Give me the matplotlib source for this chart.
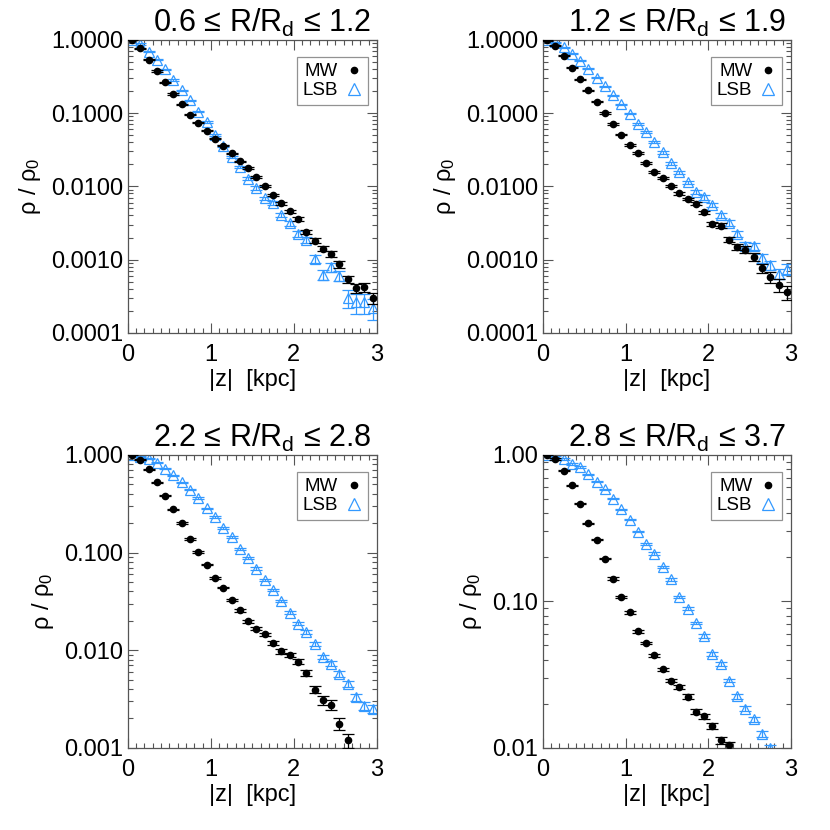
import numpy as np
import matplotlib
matplotlib.use("Agg")
import matplotlib.pyplot as plt
from matplotlib.lines import Line2D
from matplotlib.ticker import MultipleLocator, LogLocator, NullFormatter

plt.rcParams['font.family'] = ['Liberation Sans', 'DejaVu Sans']
plt.rcParams['mathtext.fontset'] = 'custom'
plt.rcParams['mathtext.rm'] = 'Liberation Sans'
plt.rcParams['mathtext.it'] = 'Liberation Sans'

# bin centres in |z| (kpc)
z = np.round(np.arange(0.05, 3.0, 0.1), 2)

titles = ["0.6 \u2264 R/R$_{\\rm d}$ \u2264 1.2",
          "1.2 \u2264 R/R$_{\\rm d}$ \u2264 1.9",
          "2.2 \u2264 R/R$_{\\rm d}$ \u2264 2.8",
          "2.8 \u2264 R/R$_{\\rm d}$ \u2264 3.7"]

# panel 1: 0.6 <= R/Rd <= 1.2
mw1 = [1.0, 0.762, 0.534, 0.374, 0.262, 0.182, 0.131, 0.0949, 0.0738, 0.0574,
       0.0447, 0.0359, 0.0282, 0.0219, 0.0178, 0.01355, 0.0101, 0.00762, 0.00586, 0.00456,
       0.00359, 0.00241, 0.00182, 0.00141, 0.00120, 0.00086, 0.00054, 0.00041, 0.00042, 0.00030]
lsb1 = [1.0, 0.88, 0.686, 0.534, 0.398, 0.282, 0.204, 0.150, 0.105, 0.0754,
        0.0496, 0.0359, 0.0251, 0.0184, 0.0127, 0.0095, 0.00686, 0.00593, 0.00407, 0.00316,
        0.00226, 0.00187, 0.00102, 0.00062, 0.00079, 0.00060, 0.00030, 0.00026, 0.00026, 0.00022]
mw1_err = [0.02, 0.02, 0.02, 0.02, 0.02, 0.02, 0.02, 0.02, 0.02, 0.02,
           0.02, 0.02, 0.02, 0.02, 0.03, 0.03, 0.03, 0.04, 0.04, 0.05,
           0.05, 0.06, 0.07, 0.08, 0.09, 0.10, 0.12, 0.14, 0.15, 0.17]
lsb1_err = [0.02, 0.02, 0.02, 0.02, 0.02, 0.02, 0.02, 0.02, 0.02, 0.02,
            0.03, 0.03, 0.03, 0.04, 0.04, 0.05, 0.05, 0.06, 0.07, 0.08,
            0.09, 0.10, 0.12, 0.15, 0.14, 0.16, 0.28, 0.30, 0.30, 0.33]

# panel 2: 1.2 <= R/Rd <= 1.9
mw2 = [0.98, 0.83, 0.605, 0.415, 0.288, 0.204, 0.143, 0.100, 0.0708, 0.0507,
       0.0366, 0.0285, 0.0208, 0.0155, 0.0131, 0.0102, 0.00803, 0.00672, 0.00580, 0.00442,
       0.0031, 0.00291, 0.00187, 0.00149, 0.00137, 0.00109, 0.00076, 0.00057, 0.00045, 0.00036]
lsb2 = [0.98, 0.92, 0.794, 0.644, 0.517, 0.402, 0.306, 0.231, 0.174, 0.131,
        0.098, 0.0708, 0.0551, 0.0398, 0.0291, 0.0206, 0.0155, 0.0113, 0.00837, 0.00708,
        0.00562, 0.00402, 0.00316, 0.00226, 0.00155, 0.00152, 0.00104, 0.00085, 0.00064, 0.00075]
mw2_err = [0.02, 0.02, 0.02, 0.02, 0.02, 0.02, 0.02, 0.02, 0.02, 0.02,
           0.02, 0.02, 0.02, 0.03, 0.03, 0.03, 0.04, 0.04, 0.05, 0.05,
           0.06, 0.07, 0.08, 0.10, 0.11, 0.13, 0.15, 0.17, 0.19, 0.22]
lsb2_err = [0.02, 0.02, 0.02, 0.02, 0.02, 0.02, 0.02, 0.02, 0.02, 0.02,
            0.02, 0.02, 0.03, 0.03, 0.04, 0.04, 0.05, 0.05, 0.06, 0.07,
            0.07, 0.08, 0.09, 0.10, 0.11, 0.12, 0.13, 0.14, 0.16, 0.17]

# panel 3: 2.2 <= R/Rd <= 2.8
mw3 = [1.0, 0.895, 0.712, 0.524, 0.382, 0.277, 0.199, 0.137, 0.1007, 0.0753,
       0.0545, 0.0437, 0.0329, 0.0256, 0.0197, 0.0166, 0.0145, 0.0119, 0.0097, 0.0090,
       0.0076, 0.00585, 0.00394, 0.00306, 0.00277, 0.00177, 0.00119]
lsb3 = [1.0, 0.953, 0.910, 0.828, 0.724, 0.618, 0.524, 0.440, 0.359, 0.283,
        0.231, 0.179, 0.143, 0.108, 0.0875, 0.0685, 0.0524, 0.0413, 0.0319, 0.0242,
        0.0187, 0.0153, 0.0116, 0.00855, 0.00724, 0.00571, 0.00451, 0.00329, 0.0027, 0.0025]
mw3_err = [0.01, 0.01, 0.01, 0.01, 0.01, 0.01, 0.02, 0.02, 0.02, 0.02,
           0.02, 0.02, 0.02, 0.03, 0.03, 0.03, 0.04, 0.04, 0.05, 0.05,
           0.06, 0.07, 0.08, 0.10, 0.11, 0.13, 0.16]
lsb3_err = [0.01, 0.01, 0.01, 0.01, 0.01, 0.01, 0.01, 0.01, 0.02, 0.02,
            0.02, 0.02, 0.02, 0.02, 0.02, 0.03, 0.03, 0.03, 0.03, 0.04,
            0.04, 0.04, 0.05, 0.05, 0.06, 0.06, 0.07, 0.08, 0.09, 0.10]

# panel 4: 2.8 <= R/Rd <= 3.7
mw4 = [1.0, 0.938, 0.780, 0.621, 0.464, 0.341, 0.263, 0.195, 0.1426, 0.107,
       0.0840, 0.0624, 0.0521, 0.0427, 0.0343, 0.0288, 0.0261, 0.0223, 0.0177, 0.0164,
       0.0141, 0.01124, 0.01038]
lsb4 = [1.0, 0.99, 0.938, 0.867, 0.826, 0.736, 0.655, 0.583, 0.502, 0.424,
        0.360, 0.299, 0.246, 0.212, 0.172, 0.141, 0.107, 0.089, 0.0709, 0.058,
        0.044, 0.0372, 0.0288, 0.0225, 0.0185, 0.0157, 0.0124, 0.0099]
mw4_err = [0.01, 0.01, 0.01, 0.01, 0.01, 0.01, 0.01, 0.01, 0.02, 0.02,
           0.02, 0.02, 0.02, 0.03, 0.03, 0.03, 0.03, 0.04, 0.04, 0.04,
           0.05, 0.05, 0.06]
lsb4_err = [0.01, 0.01, 0.01, 0.01, 0.01, 0.01, 0.01, 0.01, 0.01, 0.01,
            0.01, 0.01, 0.01, 0.02, 0.02, 0.02, 0.02, 0.02, 0.02, 0.03,
            0.03, 0.03, 0.03, 0.04, 0.04, 0.04, 0.05, 0.05]

mw_all = [mw1, mw2, mw3, mw4]
lsb_all = [lsb1, lsb2, lsb3, lsb4]
mw_errs = [mw1_err, mw2_err, mw3_err, mw4_err]
lsb_errs = [lsb1_err, lsb2_err, lsb3_err, lsb4_err]

ylims = [(1e-4, 1.0), (1e-4, 1.0), (1e-3, 1.0), (1e-2, 1.0)]
yticks = [[1e-4, 1e-3, 1e-2, 1e-1, 1.0],
          [1e-4, 1e-3, 1e-2, 1e-1, 1.0],
          [1e-3, 1e-2, 1e-1, 1.0],
          [1e-2, 1e-1, 1.0]]
yticklabels = [["0.0001", "0.0010", "0.0100", "0.1000", "1.0000"],
               ["0.0001", "0.0010", "0.0100", "0.1000", "1.0000"],
               ["0.001", "0.010", "0.100", "1.000"],
               ["0.01", "0.10", "1.00"]]

lsb_color = '#3399ff'

# axes boxes in figure fraction (left, bottom, width, height)
boxes = [(0.154, 0.599, 0.300, 0.353), (0.654, 0.599, 0.299, 0.353),
         (0.154, 0.099, 0.300, 0.353), (0.654, 0.099, 0.299, 0.353)]

fig = plt.figure(figsize=(8.3, 8.3), dpi=100)

for i in range(4):
  ax = fig.add_axes(boxes[i])
  mw = np.array(mw_all[i])
  lsb = np.array(lsb_all[i])
  zm = z[:len(mw)]
  zl = z[:len(lsb)]
  ax.errorbar(zl, lsb, yerr=lsb*np.array(lsb_errs[i]), fmt='^', ms=7.5, mfc='none',
              mec=lsb_color, mew=0.9, ecolor=lsb_color, elinewidth=0.9, capsize=4,
              capthick=0.9, zorder=2)
  ax.errorbar(zm, mw, yerr=mw*np.array(mw_errs[i]), fmt='o', ms=4.5, color='black',
              ecolor='black', elinewidth=0.9, capsize=4, capthick=0.9, zorder=3)
  ax.set_yscale('log')
  ax.set_xlim(0, 3)
  ax.set_ylim(*ylims[i])
  ax.set_yticks(yticks[i])
  ax.set_yticklabels(yticklabels[i])
  ax.yaxis.set_minor_locator(LogLocator(base=10, subs=np.arange(2, 10)))
  ax.yaxis.set_minor_formatter(NullFormatter())
  ax.set_xticks([0, 1, 2, 3])
  ax.xaxis.set_minor_locator(MultipleLocator(0.1))
  ax.tick_params(which='both', direction='in', top=True, right=True, labelsize=17,
                 width=0.8, color='#555555')
  ax.tick_params(which='major', length=7)
  ax.tick_params(which='minor', length=3.5)
  ax.tick_params(axis='x', pad=8)
  for s in ax.spines.values():
    s.set_color('#555555')
    s.set_linewidth(0.9)
  ax.set_xlabel('|z|  [kpc]', fontsize=17, labelpad=2)
  ax.set_ylabel(r'$\rho$ / $\rho_0$', fontsize=17, labelpad=6)
  ax.set_title(titles[i], fontsize=22, pad=6, x=0.54)
  handles = [Line2D([], [], ls='none', marker='o', ms=4.5, color='black'),
             Line2D([], [], ls='none', marker='^', ms=9, mfc='none', mec=lsb_color, mew=0.9)]
  leg = ax.legend(handles, ['MW', 'LSB'], loc='upper right', markerfirst=False,
                  fontsize=13.5, frameon=True, fancybox=False, handlelength=0.9,
                  handletextpad=0.4, borderpad=0.3, labelspacing=0.1,
                  bbox_to_anchor=(0.965, 0.94), borderaxespad=0)
  leg.get_frame().set_edgecolor('#777777')
  leg.get_frame().set_linewidth(0.9)

fig.savefig('out.png', dpi=100)
